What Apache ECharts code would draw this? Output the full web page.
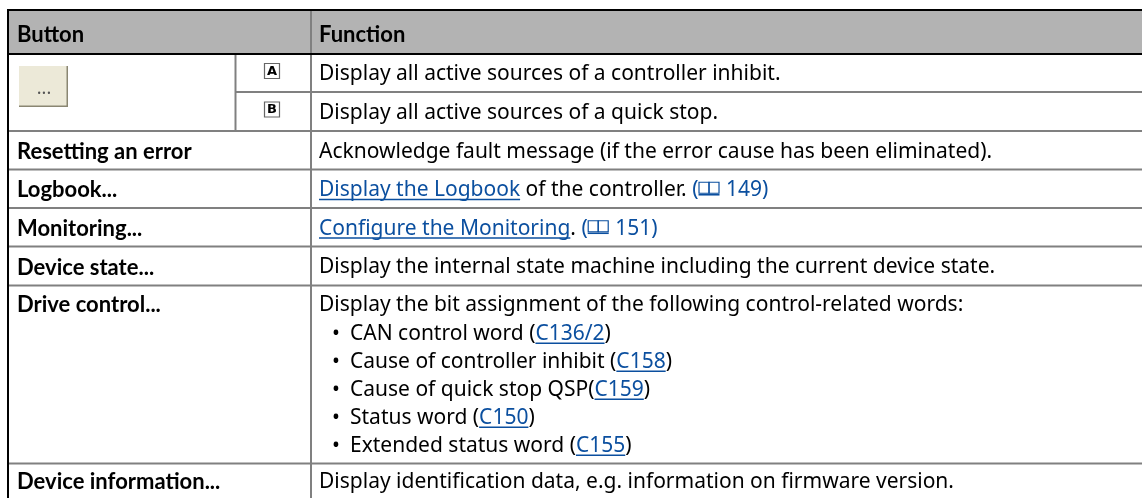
<!DOCTYPE html>
<html>
<head>
<meta charset="utf-8">
<title>Button functions</title>
<style>
  html, body { margin: 0; padding: 0; background: #fff; }
  #main { width: 1142px; height: 498px; }
</style>
<script src="https://cdn.jsdelivr.net/npm/echarts@6/dist/echarts.min.js"></script>
</head>
<body>
<div id="main"></div>
<script>
// table content
// [..] = link, {..} = blue reference, @ = book icon
var headers = ['Button', 'Function'];
var buttonLabels = ['...', '...', 'Resetting an error', 'Logbook...', 'Monitoring...', 'Device state...', 'Drive control...', 'Device information...'];
var keyLetters = ['A', 'B', '', '', '', '', '', ''];
var functionLines = [
  ['Display all active sources of a controller inhibit.'],
  ['Display all active sources of a quick stop.'],
  ['Acknowledge fault message (if the error cause has been eliminated).'],
  ['[Display the Logbook] of the controller. {(@ 149)}'],
  ['[Configure the Monitoring]. {(@ 151)}'],
  ['Display the internal state machine including the current device state.'],
  ['Display the bit assignment of the following control-related words:',
   'CAN control word ([C136/2])',
   'Cause of controller inhibit ([C158])',
   'Cause of quick stop QSP([C159])',
   'Status word ([C150])',
   'Extended status word ([C155])'],
  ['Display identification data, e.g. information on firmware version.']
];

// layout
var rowEdges = [54, 92, 131, 169.5, 208, 246.5, 285.5, 463.5, 498];
var colLeft = 8, colKey = 235.5, colFunc = 311, colRight = 1142;
var headTop = 10, lineGap = 28, textShift = 1.5;
var textFont = '21px "Noto Sans"';
var boldFont = 'bold 22px Lato';
var black = '#000', grey = '#808080', blue = '#0b4f9f';

var measure = document.createElement('canvas').getContext('2d');
function textWidth(str, font) {
  measure.font = font;
  return measure.measureText(str).width;
}

// splits a marked up line into plain / link / ref pieces
function parseLine(line) {
  var parts = [];
  var re = /\[([^\]]+)\]|\{([^}]+)\}|([^\[{]+)/g, m;
  while ((m = re.exec(line))) {
    if (m[1]) parts.push({ text: m[1], kind: 'link' });
    else if (m[2]) parts.push({ text: m[2], kind: 'ref' });
    else parts.push({ text: m[3], kind: 'plain' });
  }
  return parts;
}

function hLine(api, x1, x2, y, color, w) {
  var a = api.coord([x1, y]), b = api.coord([x2, y]);
  return { type: 'line', shape: { x1: a[0], y1: a[1], x2: b[0], y2: b[1] }, style: { stroke: color, lineWidth: w } };
}
function vLine(api, x, y1, y2, color, w) {
  var a = api.coord([x, y1]), b = api.coord([x, y2]);
  return { type: 'line', shape: { x1: a[0], y1: a[1], x2: b[0], y2: b[1] }, style: { stroke: color, lineWidth: w } };
}
function box(api, x1, y1, x2, y2, style) {
  var a = api.coord([x1, y1]), b = api.coord([x2, y2]);
  return { type: 'rect', shape: { x: a[0], y: a[1], width: b[0] - a[0], height: b[1] - a[1] }, style: style };
}
function label(api, str, x, y, font, color, align) {
  var p = api.coord([x, y + textShift]);
  return { type: 'text', style: { text: str, x: p[0], y: p[1], font: font, fill: color, textAlign: align || 'left', textVerticalAlign: 'middle' } };
}

function bookIcon(api, out, x, cy) {
  out.push(box(api, x + 0.5, cy - 6.5, x + 10.5, cy + 4.5, { fill: 'none', stroke: blue, lineWidth: 1.2 }));
  out.push(box(api, x + 10.5, cy - 6.5, x + 20.5, cy + 4.5, { fill: 'none', stroke: blue, lineWidth: 1.2 }));
  out.push(hLine(api, x, x + 21, cy + 6, blue, 1.6));
}

function drawLine(api, out, line, x, cy) {
  parseLine(line).forEach(function (part) {
    var color = part.kind === 'plain' ? black : blue;
    var pieces = part.text.split('@');
    pieces.forEach(function (piece, i) {
      if (i > 0) {
        bookIcon(api, out, x, cy);
        x += 22;
      }
      if (!piece) return;
      out.push(label(api, piece, x, cy, textFont, color));
      var w = textWidth(piece, textFont);
      if (part.kind === 'link') out.push(hLine(api, x, x + w, cy + 10.8, blue, 1.5));
      x += w;
    });
  });
}

function renderRow(params, api) {
  var i = api.value(0);
  var top = rowEdges[i], bottom = rowEdges[i + 1];
  var out = [];
  var lines = functionLines[i];
  var cy = lines.length > 1 ? top + 18 : (top + bottom) / 2;
  var merged = i < 2;

  // body text
  lines.forEach(function (line, n) {
    var bullet = n > 0;
    var y = bullet ? cy + 1 + n * lineGap : cy;
    if (bullet) out.push(label(api, '•', 332, y, textFont, black));
    drawLine(api, out, line, bullet ? 350 : 319, y);
  });

  if (merged) {
    out.push(vLine(api, colKey, top, bottom, grey, 2));
    var bx = 264.5, bw = 15, by = (top + bottom) / 2 - 9.5;
    out.push(box(api, bx, by, bx + bw, by + bw, { fill: '#fff', stroke: '#666', lineWidth: 1.2 }));
    out.push(label(api, keyLetters[i], bx + bw / 2, by + bw / 2 - 1, 'bold 13px "DejaVu Sans"', black, 'center'));
  } else {
    out.push(label(api, buttonLabels[i], 17, cy, boldFont, black));
  }

  // cell rules
  out.push(vLine(api, colFunc, top, bottom, grey, 2));
  if (i < rowEdges.length - 2) {
    out.push(hLine(api, i === 0 ? colKey : colLeft, colRight, bottom, grey, 2));
  }
  return { type: 'group', children: out };
}

function renderHead(params, api) {
  var out = [];
  out.push(box(api, colLeft, headTop, colRight, rowEdges[0], { fill: '#b3b3b3' }));
  out.push(hLine(api, colLeft, colRight, headTop, black, 2));
  out.push(hLine(api, colLeft, colRight, rowEdges[0], black, 2));
  out.push(vLine(api, colFunc, headTop + 1, rowEdges[0] - 1, grey, 2));
  out.push(label(api, headers[0], 17, 33, boldFont, black));
  out.push(label(api, headers[1], 319, 33, boldFont, black));
  // left rule runs full height
  out.push(vLine(api, colLeft, headTop - 1, rowEdges[rowEdges.length - 1], black, 2));

  // the "..." button
  out.push(box(api, 19, 66, 68, 107, { fill: '#8a8672' }));
  out.push(box(api, 19, 66, 66.5, 105.5, { fill: '#ece9d8' }));
  out.push(label(api, '...', 44, 87, '18px "Noto Sans"', '#555', 'center'));
  return { type: 'group', children: out };
}

var chart = echarts.init(document.getElementById('main'), null, { renderer: 'canvas' });
chart.setOption({
  animation: false,
  backgroundColor: '#fff',
  grid: { left: 0, right: 0, top: 0, bottom: 0 },
  xAxis: { type: 'value', min: 0, max: 1142, show: false },
  yAxis: { type: 'value', min: 0, max: 498, inverse: true, show: false },
  tooltip: { show: false },
  series: [
    { type: 'custom', silent: true, coordinateSystem: 'cartesian2d', renderItem: renderRow, clip: false, encode: { x: 0, y: 0 },
      data: functionLines.map(function (l, i) { return [i]; }) },
    { type: 'custom', silent: true, coordinateSystem: 'cartesian2d', renderItem: renderHead, clip: false, encode: { x: 0, y: 0 },
      data: [[0]] }
  ]
});
</script>
</body>
</html>
